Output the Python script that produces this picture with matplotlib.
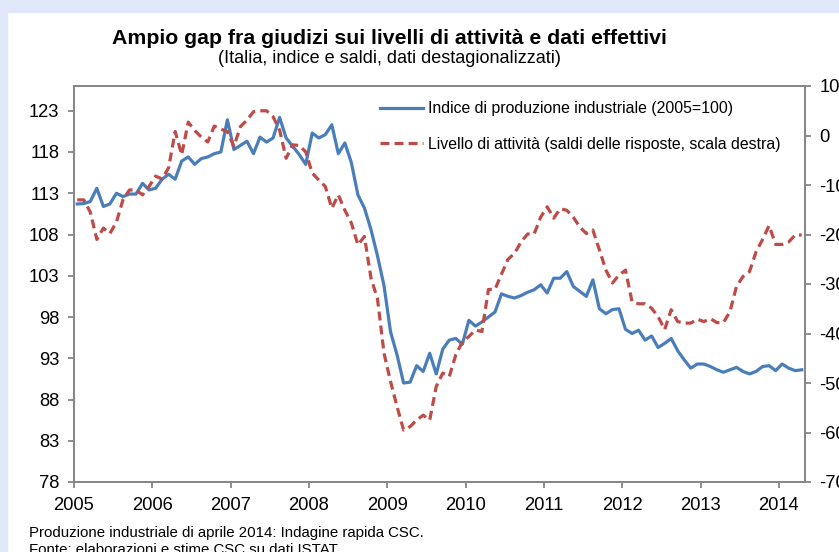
import numpy as np
import matplotlib
matplotlib.use('Agg')
import matplotlib.pyplot as plt

plt.rcParams['font.family'] = ['Liberation Sans', 'DejaVu Sans']
plt.rcParams['axes.unicode_minus'] = False

# monthly data, Jan 2005 - Apr 2014
produzione = [111.7, 111.75, 112.0, 113.6, 111.4, 111.7, 113.0, 112.6, 112.9, 112.9, 114.2, 113.4,
              113.6, 114.7, 115.3, 114.7, 116.9, 117.4, 116.5, 117.2, 117.4, 117.8, 118.0, 121.9,
              118.3, 118.8, 119.3, 117.8, 119.8, 119.2, 119.7, 122.2, 119.7, 118.7, 117.7, 116.5,
              120.3, 119.7, 120.1, 121.3, 117.8, 119.1, 116.7, 112.8, 111.2, 108.6, 105.4, 101.8,
              96.2, 93.4, 90.0, 90.1, 92.1, 91.4, 93.6, 91.1, 94.1, 95.2, 95.4, 94.7,
              97.6, 96.9, 97.4, 98.0, 98.6, 100.8, 100.5, 100.3, 100.6, 101.0, 101.3, 101.9,
              100.9, 102.7, 102.7, 103.5, 101.7, 101.1, 100.5, 102.5, 99.0, 98.4, 98.9, 99.0,
              96.5, 96.0, 96.4, 95.2, 95.7, 94.3, 94.8, 95.4, 93.9, 92.8, 91.8, 92.3,
              92.3, 92.0, 91.6, 91.3, 91.6, 91.9, 91.4, 91.1, 91.4, 92.0, 92.1, 91.5,
              92.3, 91.8, 91.5, 91.6]
livello = [-13, -13, -15.5, -21, -18.7, -19.8, -17.5, -13, -11, -11, -12, -10.3,
           -8.2, -8.8, -6.5, 0.8, -3.9, 2.7, 1.0, -0.3, -1.3, 1.9, 1.3, 0.8,
           -2.2, 1.8, 3.1, 4.8, 5.0, 5.0, 3.8, 1.1, -4.6, -1.9, -2.0, -3.3,
           -7.6, -9.0, -10.3, -14.7, -12.0, -15.1, -17.7, -22.1, -20.4, -28.8, -33.0, -44,
           -49.7, -54.8, -59.5, -58.8, -57.5, -56.5, -57.5, -50.7, -48.0, -48.7, -44.3, -41.7,
           -40.6, -39.3, -39.6, -31.1, -31.1, -28, -25, -23.8, -21.5, -19.9, -19.9, -16.5,
           -14.4, -16.7, -14.8, -15.1, -16.5, -18.5, -19.8, -19.1, -23.1, -27.2, -29.8, -28.2,
           -27.2, -33.6, -34.0, -34.0, -34.9, -36.6, -39.2, -35.2, -37.6, -37.9, -37.9, -37.1,
           -37.6, -37.0, -37.8, -37.8, -35.6, -30.5, -28.5, -27.5, -23.5, -21.0, -18.2, -22.0,
           -22.0, -21.5, -20.1, -20.1]
anni = list(range(2005, 2015))
left_ticks = list(range(78, 124, 5))
right_ticks = list(range(-70, 11, 10))

blu = '#4a7ebb'
rosso = '#be4b48'
grigio = '#868686'

n = len(produzione)
x = 2005 + (np.arange(n) + 0.5) / 12

fig = plt.figure(figsize=(8.39, 5.52), dpi=100)
fig.patch.set_facecolor('white')
# light blue frame at top and left
fig.patches.append(plt.Rectangle((0, 1 - 12 / 552), 1, 12 / 552, transform=fig.transFigure,
                                 color='#dfe7f8', zorder=0))
fig.patches.append(plt.Rectangle((0, 0), 7 / 839, 1, transform=fig.transFigure,
                                 color='#dfe7f8', zorder=0))

ax1 = fig.add_axes([74 / 839, 1 - 482 / 552, 731 / 839, 396 / 552])
ax2 = ax1.twinx()

l1, = ax1.plot(x, produzione, color=blu, lw=2.3, solid_joinstyle='round',
               label='Indice di produzione industriale (2005=100)')
l2, = ax2.plot(x, livello, color=rosso, lw=2.3, dashes=(2.8, 1.6),
               label='Livello di attività (saldi delle risposte, scala destra)')

ax1.set_xlim(2005, 2005 + n / 12)
ax1.set_ylim(78, 126)
ax2.set_ylim(-70, 10)
ax1.set_xticks(anni)
ax1.set_xticklabels([str(a) for a in anni])
ax1.set_yticks(left_ticks)
ax2.set_yticks(right_ticks)

for ax in (ax1, ax2):
    for s in ax.spines.values():
        s.set_color(grigio)
        s.set_linewidth(1.3)
    ax.tick_params(colors=grigio, labelcolor='black', labelsize=13.2, length=4,
                   width=1.3, pad=6.5)
ax1.tick_params(axis='x', pad=7)

ax1.legend(handles=[l1, l2], loc='upper left', bbox_to_anchor=(0.41, 0.977),
           frameon=False, fontsize=11.4, handlelength=2.7, handletextpad=0.3,
           labelspacing=1.3, borderaxespad=0)

fig.text(389 / 839, 1 - 43.5 / 552, 'Ampio gap fra giudizi sui livelli di attività e dati effettivi',
         ha='center', va='baseline', fontsize=15.3, fontweight='bold')
fig.text(389 / 839, 1 - 63 / 552, '(Italia, indice e saldi, dati destagionalizzati)',
         ha='center', va='baseline', fontsize=13)
fig.text(29 / 839, 1 - 536.5 / 552, 'Produzione industriale di aprile 2014: Indagine rapida CSC.',
         ha='left', va='baseline', fontsize=10.8)
fig.text(29 / 839, 1 - 554 / 552, 'Fonte: elaborazioni e stime CSC su dati ISTAT',
         ha='left', va='baseline', fontsize=10.8)

fig.savefig('out.png', dpi=100)
